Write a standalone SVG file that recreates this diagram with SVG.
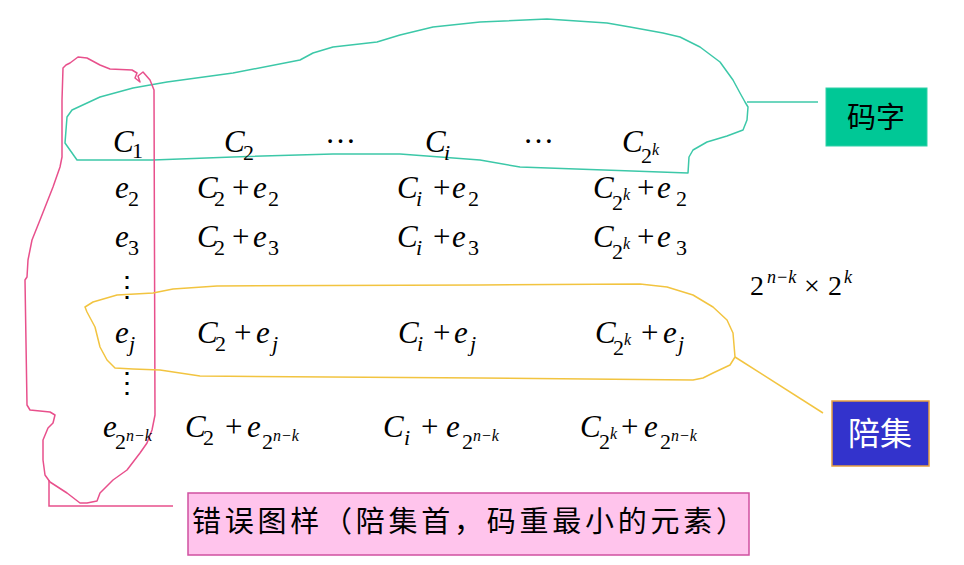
<svg xmlns="http://www.w3.org/2000/svg" width="964" height="565" viewBox="0 0 964 565">
<style>
.m{font-family:'Liberation Serif',serif;font-size:31px;fill:#000}
.i{font-style:italic}
.s{font-size:22px}
.ss{font-size:16px;font-style:italic}
.cj{font-family:'Noto Sans CJK SC',sans-serif}
.ol{fill:none;stroke-width:1.5;stroke-linejoin:round}
</style>
<rect width="964" height="565" fill="#fff"/>
<g id="outlines">
<path id="codeword-outline" class="ol" stroke="#3CC8A8" d="M72,110 L67,117 L65,143 L77,160 L153,160 L233,157 L333,154 L400,154 L480,160 L520,167 L688,173 L689,157 L693,150 L707,142 L727,136 L743,130 L747,120 L748,107 L745,102 L740,93 L733,80 L720,62 L700,47 L680,37 L663,33 L630,27 L607,23 L547,19 L480,22 L433,27 L400,35 L377,42 L333,47 L313,53 L300,60 L233,73 L167,82 L133,88 L100,97 Z"/>
<path id="coset-leader-outline" class="ol" stroke="#E8508C" d="M63,68 L66,65 L70,63 L78,57 L87,58 L100,65 L110,69 L132,70 L137,73 L135,78 L140,82 L138,76 L143,72 L150,80 L154,90 L155,415 L152,430 L147,443 L140,453 L127,470 L113,480 L100,493 L97,501 L87,503 L80,503 L67,493 L50,482 L45,475 L43,460 L43,440 L48,428 L53,423 L55,415 L50,412 L30,410 L27,405 L25,280 L27,277 L28,260 L32,240 L40,220 L53,187 L60,167 L62,157 L62,100 Z"/>
<path id="coset-outline" class="ol" stroke="#F2C440" d="M85,307 L93,302 L117,295 L153,293 L173,289 L217,286 L480,285 L640,284 L667,287 L693,295 L713,307 L727,320 L733,333 L735,357 L730,365 L713,373 L703,378 L693,380 L480,378 L200,376 L160,370 L133,369 L115,368 L107,360 L100,347 L95,327 L87,312 Z"/>
</g>
<g id="connectors" fill="none" stroke-width="1.5">
<path d="M747,102 L818,102" stroke="#3CC8A8"/>
<path d="M735,357 L823,413" stroke="#F2C440"/>
<path d="M49,480 L49,506 L173,506" stroke="#E8508C"/>
</g>
<g id="node-codeword">
<rect x="826" y="88" width="101" height="58" fill="#00C896" stroke="#30D0A8" stroke-width="1"/>
<text class="cj" x="876" y="128" font-size="29" text-anchor="middle" fill="#000">码字</text>
</g>
<g id="node-coset">
<rect x="832" y="401" width="97" height="65" fill="#3333CC" stroke="#E8A040" stroke-width="1.5"/>
<text class="cj" x="880" y="445" font-size="32" text-anchor="middle" fill="#fff">陪集</text>
</g>
<g id="node-leader">
<rect x="188" y="493" width="561" height="62" fill="#FFC4EC" stroke="#D050A0" stroke-width="1.5"/>
<text class="cj" x="192" y="532" font-size="29" textLength="553" lengthAdjust="spacing" fill="#000">错误图样（陪集首，码重最小的元素）</text>
</g>
<g id="array" font-family="Liberation Serif, serif">
<!-- row 1 -->
<text class="m"><tspan class="i" x="113" y="152">C</tspan><tspan class="s" x="132" y="158">1</tspan></text>
<text class="m"><tspan class="i" x="224" y="152">C</tspan><tspan class="s" x="243" y="160">2</tspan></text>
<text class="m" x="325" y="143">…</text>
<text class="m"><tspan class="i" x="425" y="152">C</tspan><tspan class="s i" x="444" y="160">i</tspan></text>
<text class="m" x="523" y="143">…</text>
<text class="m"><tspan class="i" x="622" y="152">C</tspan><tspan class="s" x="641" y="163">2</tspan><tspan class="ss" x="652" y="155">k</tspan></text>
<!-- row 2 -->
<text class="m"><tspan class="i" x="115" y="198">e</tspan><tspan class="s" x="128" y="206">2</tspan></text>
<text class="m"><tspan class="i" x="197" y="198">C</tspan><tspan class="s" x="214" y="206">2</tspan><tspan x="232" y="198">+</tspan><tspan class="i" x="253" y="198">e</tspan><tspan class="s" x="268" y="206">2</tspan></text>
<text class="m"><tspan class="i" x="397" y="198">C</tspan><tspan class="s i" x="416" y="206">i</tspan><tspan x="433" y="198">+</tspan><tspan class="i" x="452" y="198">e</tspan><tspan class="s" x="468" y="206">2</tspan></text>
<text class="m"><tspan class="i" x="593" y="198">C</tspan><tspan class="s" x="612" y="210">2</tspan><tspan class="ss" x="623" y="200">k</tspan><tspan x="637" y="198">+</tspan><tspan class="i" x="657" y="198">e</tspan><tspan class="s" x="676" y="206">2</tspan></text>
<!-- row 3 -->
<text class="m"><tspan class="i" x="115" y="247">e</tspan><tspan class="s" x="128" y="255">3</tspan></text>
<text class="m"><tspan class="i" x="197" y="247">C</tspan><tspan class="s" x="214" y="255">2</tspan><tspan x="232" y="247">+</tspan><tspan class="i" x="253" y="247">e</tspan><tspan class="s" x="268" y="255">3</tspan></text>
<text class="m"><tspan class="i" x="397" y="247">C</tspan><tspan class="s i" x="416" y="255">i</tspan><tspan x="433" y="247">+</tspan><tspan class="i" x="452" y="247">e</tspan><tspan class="s" x="468" y="255">3</tspan></text>
<text class="m"><tspan class="i" x="593" y="247">C</tspan><tspan class="s" x="612" y="259">2</tspan><tspan class="ss" x="623" y="249">k</tspan><tspan x="637" y="247">+</tspan><tspan class="i" x="657" y="247">e</tspan><tspan class="s" x="676" y="255">3</tspan></text>
<!-- vertical dots -->
<text x="127" y="296" font-family="DejaVu Serif,serif" font-size="28" text-anchor="middle" fill="#000">⋮</text>
<text x="127" y="392" font-family="DejaVu Serif,serif" font-size="28" text-anchor="middle" fill="#000">⋮</text>
<!-- row j -->
<text class="m"><tspan class="i" x="115" y="343">e</tspan><tspan class="s i" x="129" y="351">j</tspan></text>
<text class="m"><tspan class="i" x="197" y="343">C</tspan><tspan class="s" x="215" y="351">2</tspan><tspan x="234" y="343">+</tspan><tspan class="i" x="256" y="343">e</tspan><tspan class="s i" x="272" y="351">j</tspan></text>
<text class="m"><tspan class="i" x="398" y="343">C</tspan><tspan class="s i" x="417" y="351">i</tspan><tspan x="433" y="343">+</tspan><tspan class="i" x="454" y="343">e</tspan><tspan class="s i" x="470" y="351">j</tspan></text>
<text class="m"><tspan class="i" x="595" y="343">C</tspan><tspan class="s" x="613" y="355">2</tspan><tspan class="ss" x="624" y="345">k</tspan><tspan x="641" y="343">+</tspan><tspan class="i" x="663" y="343">e</tspan><tspan class="s i" x="678" y="351">j</tspan></text>
<!-- last row -->
<text class="m"><tspan class="i" x="103" y="437">e</tspan><tspan class="s" x="115" y="449">2</tspan><tspan class="ss" x="126" y="441">n−k</tspan></text>
<text class="m"><tspan class="i" x="185" y="437">C</tspan><tspan class="s" x="203" y="445">2</tspan><tspan x="225" y="437">+</tspan><tspan class="i" x="247" y="437">e</tspan><tspan class="s" x="262" y="449">2</tspan><tspan class="ss" x="273" y="441">n−k</tspan></text>
<text class="m"><tspan class="i" x="383" y="437">C</tspan><tspan class="s i" x="404" y="445">i</tspan><tspan x="421" y="437">+</tspan><tspan class="i" x="446" y="437">e</tspan><tspan class="s" x="462" y="449">2</tspan><tspan class="ss" x="473" y="441">n−k</tspan></text>
<text class="m"><tspan class="i" x="580" y="437">C</tspan><tspan class="s" x="599" y="449">2</tspan><tspan class="ss" x="610" y="439">k</tspan><tspan x="621" y="437">+</tspan><tspan class="i" x="644" y="437">e</tspan><tspan class="s" x="660" y="449">2</tspan><tspan class="ss" x="671" y="441">n−k</tspan></text>
<!-- count -->
<text class="m" style="font-size:28px"><tspan x="750" y="295">2</tspan><tspan class="i" style="font-size:18px" x="767" y="283">n−k</tspan><tspan x="804" y="295">×</tspan><tspan x="828" y="295">2</tspan><tspan class="i" style="font-size:18px" x="844" y="283">k</tspan></text>
</g>
</svg>
